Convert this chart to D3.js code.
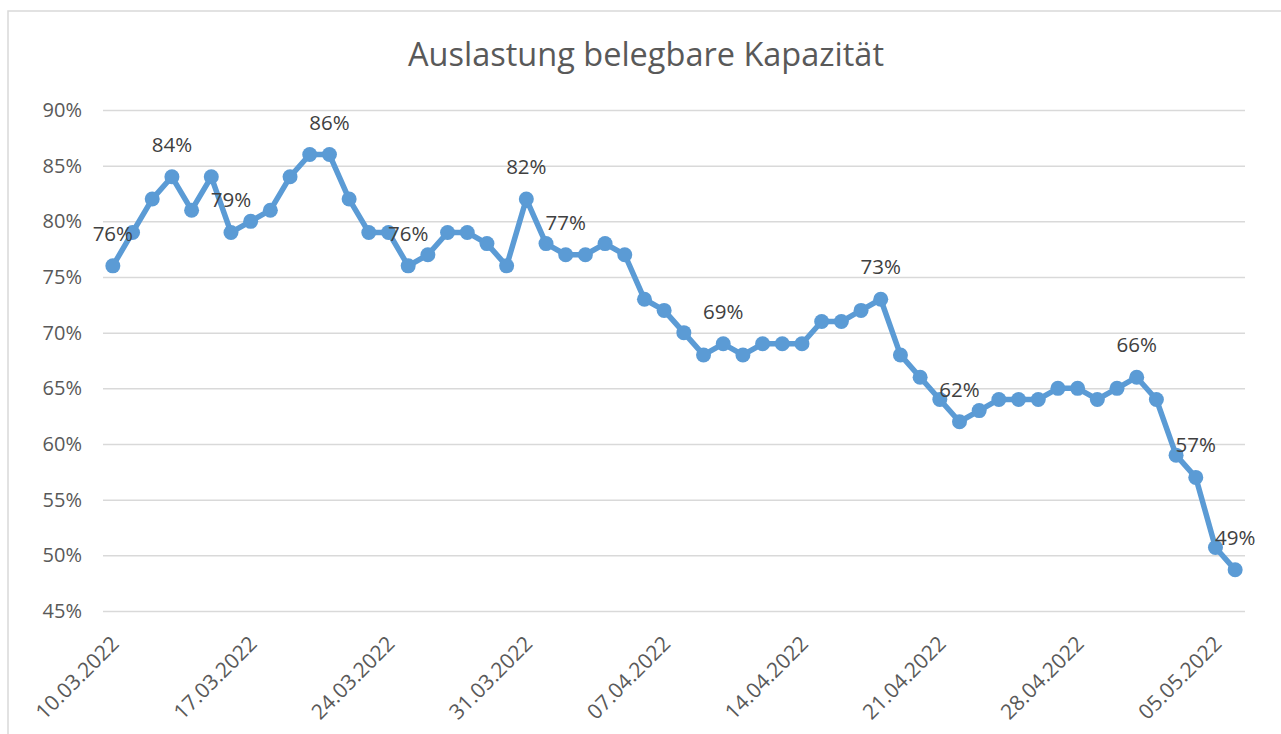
<!DOCTYPE html>
<html>
<head>
<meta charset="utf-8">
<script src="https://cdn.jsdelivr.net/npm/d3@7"></script>
<style>
  body { margin: 0; background: #fff; }
  svg { display: block; font-family: "Open Sans", "Noto Sans", sans-serif; }
  .gridline line { stroke: #D9D9D9; stroke-width: 1.5; }
  .yAxis text { fill: #595959; font-size: 20px; }
  .xAxis text { fill: #595959; font-size: 21px; }
  .dataLbl { fill: #404040; font-size: 20.5px; }
</style>
</head>
<body>
<div id="chart"></div>
<script>
var chartTitle = "Auslastung belegbare Kapazität";
var startDate = "10.03.2022";
var yTicks = [0.45, 0.50, 0.55, 0.60, 0.65, 0.70, 0.75, 0.80, 0.85, 0.90];
var xTickLabels = ["10.03.2022", "17.03.2022", "24.03.2022", "31.03.2022", "07.04.2022",
                   "14.04.2022", "21.04.2022", "28.04.2022", "05.05.2022"];
// daily utilisation, one value per day from 10.03.2022
var auslastung = [0.76, 0.79, 0.82, 0.84, 0.81, 0.84, 0.79, 0.80, 0.81, 0.84,
                  0.86, 0.86, 0.82, 0.79, 0.79, 0.76, 0.77, 0.79, 0.79, 0.78,
                  0.76, 0.82, 0.78, 0.77, 0.77, 0.78, 0.77, 0.73, 0.72, 0.70,
                  0.68, 0.69, 0.68, 0.69, 0.69, 0.69, 0.71, 0.71, 0.72, 0.73,
                  0.68, 0.66, 0.64, 0.62, 0.63, 0.64, 0.64, 0.64, 0.65, 0.65,
                  0.64, 0.65, 0.66, 0.64, 0.59, 0.57, 0.507, 0.487];
// indices of the points that carry a data label
var labelIdx = [0, 3, 6, 11, 15, 21, 23, 31, 39, 43, 52, 55, 57];

(function () {
  'use strict'

  var W = 1281, H = 734;
  var parseDate = d3.utcParse("%d.%m.%Y");
  var fmtDate = d3.utcFormat("%d.%m.%Y");
  var day0 = parseDate(startDate);

  var data = auslastung.map(function (v, i) {
    return { date: d3.utcDay.offset(day0, i), val: v, idx: i };
  });

  var svg = d3.select("#chart").append("svg")
      .attr("width", W)
      .attr("height", H);

  // chart frame
  svg.append("rect")
      .attr("x", 8).attr("y", 11)
      .attr("width", W + 20).attr("height", H + 20)
      .attr("fill", "none")
      .attr("stroke", "#D9D9D9")
      .attr("stroke-width", 1.5);

  var plotL = 103, plotR = 1245, plotT = 110, plotB = 611;

  var x = d3.scaleUtc()
      .domain([d3.utcHour.offset(data[0].date, -12), d3.utcHour.offset(data[data.length - 1].date, 12)])
      .range([plotL, plotR]);
  var y = d3.scaleLinear().domain([0.45, 0.90]).range([plotB, plotT]);

  svg.append("text")
      .attr("x", 646).attr("y", 66)
      .attr("text-anchor", "middle")
      .attr("fill", "#595959")
      .style("font-size", "32.5px")
      .text(chartTitle);

  svg.append("g")
      .attr("class", "gridline")
      .attr("transform", "translate(" + plotL + ",0)")
      .call(d3.axisLeft(y).tickValues(yTicks).tickSize(-(plotR - plotL)).tickFormat(""))
      .call(function (g) { g.select(".domain").remove(); });

  svg.append("g")
      .attr("class", "yAxis")
      .attr("transform", "translate(" + plotL + ",0)")
      .call(d3.axisLeft(y).tickValues(yTicks).tickSize(0).tickPadding(21).tickFormat(d3.format(".0%")))
      .call(function (g) { g.select(".domain").remove(); })
      .attr("font-family", null).attr("font-size", null);

  var xTickDates = xTickLabels.map(function (s) { return parseDate(s); });
  var xAxisG = svg.append("g")
      .attr("class", "xAxis")
      .attr("transform", "translate(0," + plotB + ")")
      .call(d3.axisBottom(x).tickValues(xTickDates).tickSize(0).tickFormat(fmtDate))
      .attr("font-family", null).attr("font-size", null);
  xAxisG.select(".domain").remove();
  xAxisG.selectAll("text")
      .attr("text-anchor", "end")
      .attr("dy", null)
      .attr("y", 0)
      .attr("transform", "translate(7,34) rotate(-45)");

  var line = d3.line()
      .x(function (d) { return x(d.date); })
      .y(function (d) { return y(d.val); });

  svg.append("path")
      .datum(data)
      .attr("d", line)
      .attr("fill", "none")
      .attr("stroke", "#5B9BD5")
      .attr("stroke-width", 5.5)
      .attr("stroke-linejoin", "round");

  svg.append("g").selectAll("circle")
      .data(data)
      .enter().append("circle")
      .attr("cx", function (d) { return x(d.date); })
      .attr("cy", function (d) { return y(d.val); })
      .attr("r", 7.5)
      .attr("fill", "#5B9BD5");

  svg.append("g").selectAll("text")
      .data(data.filter(function (d) { return labelIdx.indexOf(d.idx) >= 0; }))
      .enter().append("text")
      .attr("class", "dataLbl")
      .attr("x", function (d) { return x(d.date); })
      .attr("y", function (d) { return y(d.val) - 25; })
      .attr("text-anchor", "middle")
      .text(function (d) { return d3.format(".0%")(d.val); });
})()
</script>
</body>
</html>
